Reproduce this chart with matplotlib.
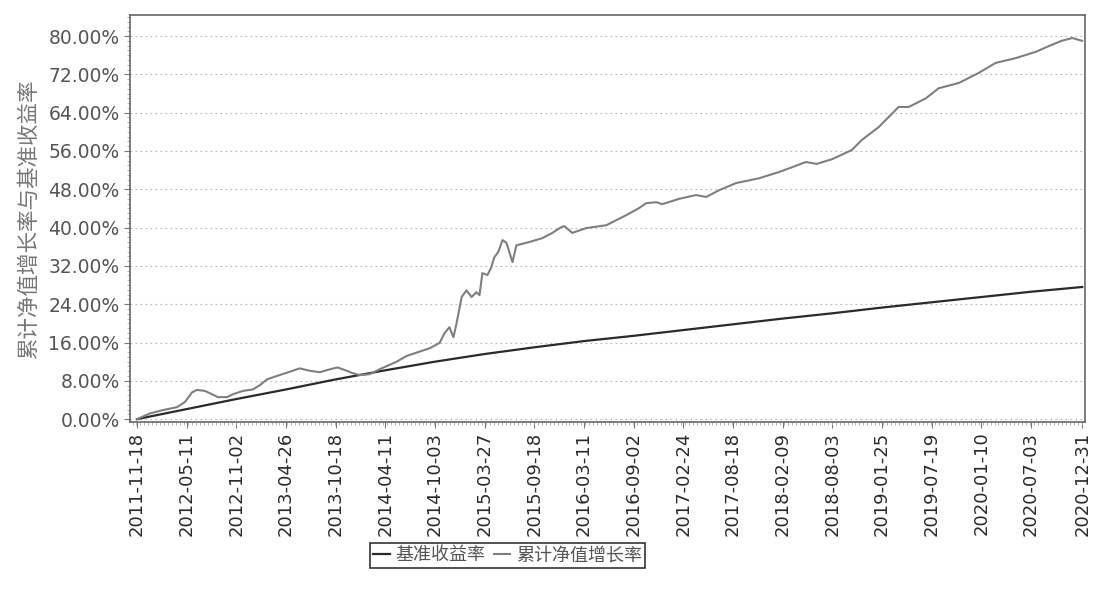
import matplotlib
matplotlib.use("Agg")
import matplotlib.pyplot as plt
import matplotlib.dates as mdates
from matplotlib.ticker import MultipleLocator, FuncFormatter
import pandas as pd

# tick dates on the x axis
tick_dates = ["2011-11-18", "2012-05-11", "2012-11-02", "2013-04-26", "2013-10-18",
              "2014-04-11", "2014-10-03", "2015-03-27", "2015-09-18", "2016-03-11",
              "2016-09-02", "2017-02-24", "2017-08-18", "2018-02-09", "2018-08-03",
              "2019-01-25", "2019-07-19", "2020-01-10", "2020-07-03", "2020-12-31"]

# 基准收益率 (benchmark), read at each tick date
bench_vals = [0.0, 2.1, 4.2, 6.2, 8.3, 10.2, 12.0, 13.6, 15.0, 16.3,
              17.4, 18.6, 19.8, 21.0, 22.1, 23.3, 24.4, 25.5, 26.6, 27.6]

# 累计净值增长率 (cumulative NAV growth)
nav_dates = ["2011-11-18", "2012-01-03", "2012-02-18", "2012-04-07", "2012-05-05",
             "2012-05-30", "2012-06-16", "2012-07-14", "2012-08-01", "2012-08-29",
             "2012-09-30", "2012-10-21", "2012-11-25", "2012-12-30", "2013-01-24",
             "2013-02-18", "2013-03-24", "2013-04-29", "2013-06-13", "2013-07-19",
             "2013-08-23", "2013-09-27", "2013-10-25", "2013-11-26", "2013-12-17",
             "2014-01-11", "2014-02-15", "2014-03-25", "2014-05-21", "2014-06-25",
             "2014-09-14", "2014-10-19", "2014-11-06", "2014-11-23", "2014-12-07",
             "2014-12-18", "2015-01-05", "2015-01-22", "2015-02-09", "2015-02-26",
             "2015-03-09", "2015-03-19", "2015-04-06", "2015-04-20", "2015-04-30",
             "2015-05-14", "2015-05-29", "2015-06-12", "2015-06-22", "2015-07-03",
             "2015-07-17", "2015-09-01", "2015-10-16", "2015-11-21", "2015-12-22",
             "2016-01-02", "2016-01-30", "2016-03-19", "2016-05-29", "2016-08-07",
             "2016-09-22", "2016-10-16", "2016-11-21", "2016-12-12", "2017-02-09",
             "2017-04-10", "2017-05-16", "2017-06-30", "2017-08-29", "2017-11-18",
             "2018-01-27", "2018-03-14", "2018-05-02", "2018-06-09", "2018-08-03",
             "2018-10-11", "2018-11-15", "2019-01-14", "2019-03-25", "2019-04-30",
             "2019-06-29", "2019-08-13", "2019-10-23", "2020-01-01", "2020-03-01",
             "2020-05-11", "2020-07-20", "2020-09-04", "2020-10-19", "2020-11-26",
             "2020-12-31"]
nav_vals = [0.0, 1.2, 1.9, 2.5, 3.6,
            5.6, 6.1, 5.9, 5.4, 4.6,
            4.6, 5.2, 5.9, 6.2, 7.1,
            8.3, 9.0, 9.7, 10.6, 10.1,
            9.8, 10.4, 10.8, 10.1, 9.6,
            9.2, 9.4, 10.5, 12.0, 13.2,
            14.8, 15.9, 18.0, 19.2, 17.1,
            20.0, 25.5, 26.9, 25.5, 26.5,
            25.9, 30.5, 30.1, 31.8, 33.8,
            34.9, 37.4, 36.8, 34.9, 32.8,
            36.3, 37.0, 37.8, 38.9, 40.1,
            40.3, 38.9, 39.9, 40.5, 42.6,
            44.1, 45.1, 45.3, 44.9, 46.0,
            46.8, 46.4, 47.8, 49.3, 50.3,
            51.6, 52.6, 53.7, 53.3, 54.3,
            56.2, 58.3, 61.0, 65.2, 65.2,
            67.0, 69.1, 70.2, 72.3, 74.4,
            75.4, 76.7, 77.9, 79.0, 79.6,
            79.0]

ticks = pd.to_datetime(tick_dates)
navd = pd.to_datetime(nav_dates)

plt.rcParams['font.family'] = ['DejaVu Sans', 'Noto Sans CJK SC']

fig = plt.figure(figsize=(10.94, 5.98), dpi=100)
ax = fig.add_axes([0.1188, 0.2943, 0.873, 0.6806])

l1, = ax.plot(ticks, bench_vals, color='#2a2a2a', lw=1.6)
l2, = ax.plot(navd, nav_vals, color='#7f7f7f', lw=1.5)

ax.set_xlim(ticks[0] - pd.Timedelta(days=25), ticks[-1] + pd.Timedelta(days=10))
ax.set_ylim(-0.6, 84.4)

ax.set_xticks(ticks)
ax.set_xticklabels(tick_dates, rotation=90, fontsize=13, color='#2a2a2a')
ax.xaxis.set_minor_locator(mdates.DayLocator(interval=14))
ax.yaxis.set_major_locator(MultipleLocator(8))
ax.yaxis.set_minor_locator(MultipleLocator(1))
ax.yaxis.set_major_formatter(FuncFormatter(lambda v, p: '%.2f%%' % v))
ax.tick_params(axis='y', labelsize=13.5, labelcolor='#555555', length=4, color='#777777')
ax.tick_params(axis='x', length=4, color='#777777', pad=3)
ax.tick_params(which='minor', length=2, color='#aaaaaa')

ax.grid(axis='y', which='major', linestyle=(0, (1.5, 3)), color='#b5b5b5', lw=0.8)
for s in ax.spines.values():
    s.set_color('#666666')
    s.set_linewidth(1.2)

ax.set_ylabel('累计净值增长率与基准收益率', family=['Noto Sans CJK SC'],
              fontsize=15.5, color='#777777', labelpad=6)

leg = fig.legend([l1, l2], ['基准收益率', '累计净值增长率'], loc='center',
                 bbox_to_anchor=(0.464, 0.0715), ncol=2, frameon=True,
                 fancybox=False, edgecolor='black', handlelength=0.9,
                 handletextpad=0.3, columnspacing=0.5, borderpad=0.2,
                 prop={'family': 'Noto Sans CJK SC', 'size': 13})
for t in leg.get_texts():
    t.set_color('#555555')
leg.get_frame().set_linewidth(1.2)

fig.savefig('out.png', dpi=100)
